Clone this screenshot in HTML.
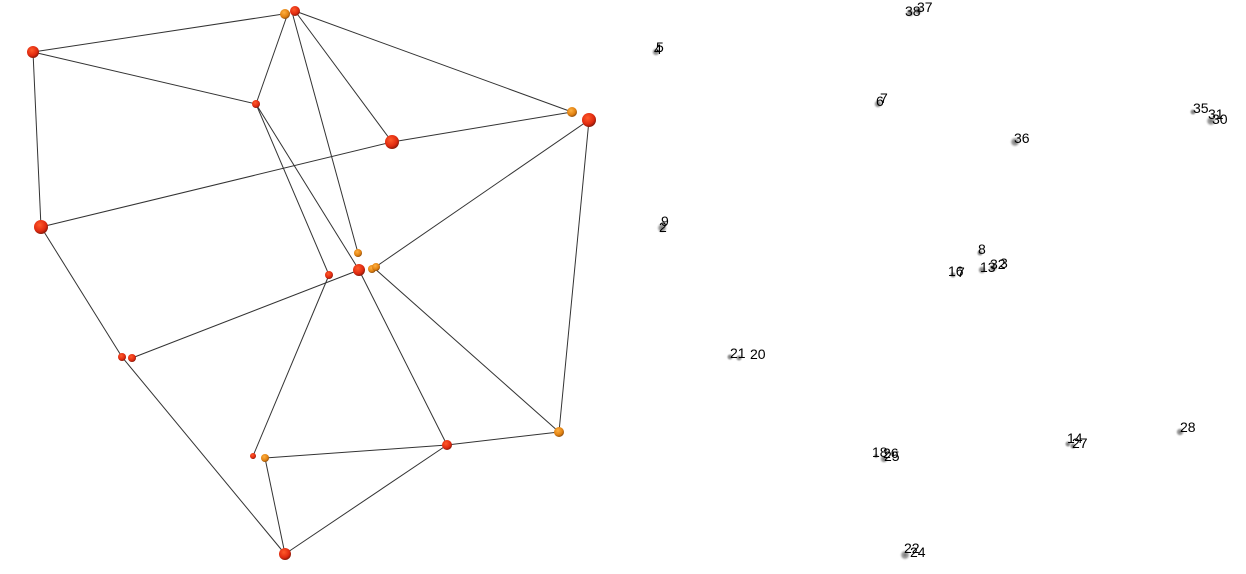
<!DOCTYPE html>
<html><head><style>body{margin:0;background:#fff}svg{display:block}text{font-family:"Liberation Sans",sans-serif;font-size:14px;fill:#000}</style></head><body>
<svg width="1246" height="574" viewBox="0 0 1246 574">
<defs><radialGradient id="r" cx="40%" cy="35%" r="65%"><stop offset="0" stop-color="#ff5a2a"/><stop offset="0.7" stop-color="#e02a10"/><stop offset="1" stop-color="#8a1a0a"/></radialGradient>
<radialGradient id="o" cx="40%" cy="35%" r="65%"><stop offset="0" stop-color="#ffb040"/><stop offset="0.7" stop-color="#e08010"/><stop offset="1" stop-color="#905010"/></radialGradient>
<radialGradient id="g" cx="50%" cy="50%" r="50%"><stop offset="0" stop-color="#777"/><stop offset="0.5" stop-color="#aaa"/><stop offset="1" stop-color="#fff" stop-opacity="0"/></radialGradient></defs>
<g stroke="#333" stroke-width="1" fill="none">
<line x1="33" y1="52" x2="290" y2="13"/><line x1="33" y1="52" x2="256" y2="104"/><line x1="33" y1="52" x2="41" y2="227"/>
<line x1="288" y1="13" x2="256" y2="104"/><line x1="295" y1="11" x2="392" y2="142"/><line x1="292" y1="12" x2="358" y2="253"/><line x1="295" y1="11" x2="572" y2="112"/>
<line x1="256" y1="104" x2="329" y2="275"/><line x1="256" y1="104" x2="359" y2="270"/>
<line x1="41" y1="227" x2="392" y2="142"/><line x1="392" y1="142" x2="572" y2="112"/><line x1="589" y1="120" x2="374" y2="268"/><line x1="589" y1="120" x2="559" y2="432"/>
<line x1="41" y1="227" x2="122" y2="357"/><line x1="132" y1="358" x2="359" y2="270"/><line x1="122" y1="357" x2="285" y2="554"/>
<line x1="253" y1="456" x2="329" y2="275"/><line x1="265" y1="458" x2="447" y2="445"/><line x1="447" y1="445" x2="559" y2="432"/>
<line x1="265" y1="458" x2="285" y2="554"/><line x1="285" y1="554" x2="447" y2="445"/><line x1="359" y1="270" x2="447" y2="445"/><line x1="374" y1="268" x2="559" y2="432"/>
</g>
<g>
<circle cx="33" cy="52" r="6" fill="url(#r)"/><circle cx="285" cy="14" r="5" fill="url(#o)"/><circle cx="295" cy="11" r="5" fill="url(#r)"/>
<circle cx="256" cy="104" r="4" fill="url(#r)"/><circle cx="392" cy="142" r="7" fill="url(#r)"/><circle cx="572" cy="112" r="5" fill="url(#o)"/><circle cx="589" cy="120" r="7" fill="url(#r)"/>
<circle cx="41" cy="227" r="7" fill="url(#r)"/><circle cx="358" cy="253" r="4" fill="url(#o)"/><circle cx="359" cy="270" r="6" fill="url(#r)"/><circle cx="372" cy="269" r="4" fill="url(#o)"/><circle cx="376" cy="267" r="4" fill="url(#o)"/>
<circle cx="329" cy="275" r="4" fill="url(#r)"/><circle cx="122" cy="357" r="4" fill="url(#r)"/><circle cx="132" cy="358" r="4" fill="url(#r)"/>
<circle cx="253" cy="456" r="3" fill="url(#r)"/><circle cx="265" cy="458" r="4" fill="url(#o)"/><circle cx="447" cy="445" r="5" fill="url(#r)"/><circle cx="559" cy="432" r="5" fill="url(#o)"/><circle cx="285" cy="554" r="6" fill="url(#r)"/>
</g>
<g fill="url(#g)">
<circle cx="910" cy="13" r="5"/><circle cx="918" cy="11" r="5"/><circle cx="656" cy="52" r="5"/><circle cx="878" cy="104" r="5"/><circle cx="1193" cy="112" r="4"/><circle cx="1211" cy="121" r="6"/>
<circle cx="1015" cy="142" r="6"/><circle cx="662" cy="228" r="6"/><circle cx="980" cy="253" r="4"/><circle cx="953" cy="275" r="4"/><circle cx="982" cy="270" r="5"/><circle cx="993" cy="268" r="5"/>
<circle cx="730" cy="357" r="4"/><circle cx="739" cy="358" r="4"/><circle cx="876" cy="456" r="3"/><circle cx="884" cy="459" r="5"/><circle cx="1068" cy="444" r="4"/><circle cx="1073" cy="446" r="4"/><circle cx="1180" cy="432" r="5"/><circle cx="905" cy="555" r="6"/>
</g>
<g>
<text x="905" y="16">38</text><text x="917" y="12">37</text><text x="654" y="54">4</text><text x="656" y="52">5</text><text x="876" y="106">6</text><text x="880" y="103">7</text>
<text x="1193" y="113">35</text><text x="1208" y="119">31</text><text x="1212" y="124">30</text><text x="1014" y="143">36</text>
<text x="661" y="226">9</text><text x="659" y="232">2</text><text x="978" y="254">8</text><text x="948" y="276">16</text><text x="957" y="277">7</text><text x="980" y="272">13</text><text x="990" y="269">32</text><text x="1000" y="268">3</text>
<text x="730" y="358">21</text><text x="750" y="359">20</text><text x="872" y="457">18</text><text x="883" y="458">26</text><text x="884" y="461">25</text>
<text x="1067" y="443">14</text><text x="1072" y="448">27</text><text x="1180" y="432">28</text><text x="904" y="553">22</text><text x="910" y="557">24</text>
</g>
</svg>
</body></html>
